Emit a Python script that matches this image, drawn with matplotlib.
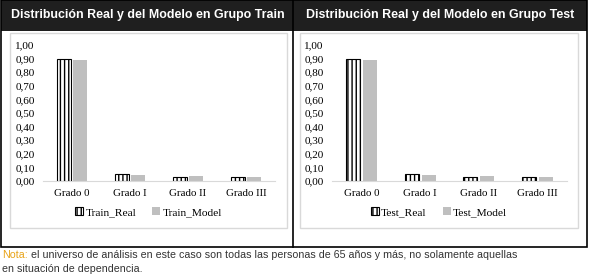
import numpy as np
import matplotlib
matplotlib.use("Agg")
import matplotlib.pyplot as plt
from matplotlib.patches import Rectangle, Patch

categories = ["Grado 0", "Grado I", "Grado II", "Grado III"]
train_real = [0.90, 0.05, 0.03, 0.03]
train_model = [0.89, 0.045, 0.035, 0.03]
test_real = [0.90, 0.05, 0.03, 0.03]
test_model = [0.89, 0.045, 0.035, 0.03]
yticks = np.arange(0, 1.01, 0.1)
titles = ["Distribución Real y del Modelo en Grupo Train",
          "Distribución Real y del Modelo en Grupo Test"]
legend_names = [("Train_Real", "Train_Model"), ("Test_Real", "Test_Model")]
note_head = "Nota:"
note_body = (" el universo de análisis en este caso son todas las personas de 65 años y más, no solamente aquellas\n"
             "en situación de dependencia.")

W, H = 589, 278
fig = plt.figure(figsize=(W / 100, H / 100), dpi=100)
plt.rcParams['hatch.linewidth'] = 1.0


def box(x0, y0, x1, y1):
    # pixel box (top-left origin) -> figure fraction rect
    return [x0 / W, 1 - y1 / H, (x1 - x0) / W, (y1 - y0) / H]


bg = fig.add_axes([0, 0, 1, 1])
bg.set_xlim(0, W)
bg.set_ylim(H, 0)
bg.axis('off')

# table frame
bg.add_patch(Rectangle((1, 0), 586, 31, facecolor='#1f1f1f', edgecolor='none'))
bg.add_patch(Rectangle((1, 0), 586, 247, facecolor='none', edgecolor='black', lw=1.2))
bg.plot([293, 293], [0, 247], color='black', lw=1.2)

panels = [
    dict(frame=(10, 33, 287, 228), ax=(43, 45, 275, 181), title_x=148),
    dict(frame=(300, 33, 578, 228), ax=(332, 45, 567, 181), title_x=440),
]
datasets = [(train_real, train_model), (test_real, test_model)]

for p, (real, model), title, names in zip(panels, datasets, titles, legend_names):
    fx0, fy0, fx1, fy1 = p['frame']
    bg.add_patch(Rectangle((fx0, fy0), fx1 - fx0, fy1 - fy0, facecolor='white',
                           edgecolor='#d9d9d9', lw=1))
    bg.text(p['title_x'], 15, title, color='white', fontsize=8.9, fontweight='bold',
            family='Liberation Sans', ha='center', va='center')

    ax = fig.add_axes(box(*p['ax']))
    x = np.arange(len(categories))
    w = 0.24
    ax.bar(x - 0.145, real, w, facecolor='white', edgecolor='black', hatch='||||', lw=0.8)
    ax.bar(x + 0.145, model, w, color='#bfbfbf')
    ax.set_xlim(-0.5, len(categories) - 0.5)
    ax.set_ylim(0, 1.0)
    ax.set_yticks(yticks)
    ax.set_yticklabels([f"{v:.2f}".replace('.', ',') for v in yticks])
    ax.set_xticks(x)
    ax.set_xticklabels(categories)
    for s in ['top', 'right', 'left']:
        ax.spines[s].set_visible(False)
    ax.spines['bottom'].set_color('#d9d9d9')
    ax.tick_params(length=0, labelsize=8, pad=6)
    ax.tick_params(axis='x', labelsize=7.8, pad=6)
    for lab in ax.get_xticklabels() + ax.get_yticklabels():
        lab.set_family('Liberation Serif')
    ax.patch.set_visible(False)

    handles = [Patch(facecolor='white', edgecolor='black', hatch='||||', lw=0.8),
               Patch(facecolor='#bfbfbf')]
    cx = (fx0 + fx1) / 2
    fig.legend(handles, names, loc='center', bbox_to_anchor=(cx / W, 1 - 212 / H),
               ncol=2, frameon=False, prop={'family': 'Liberation Serif', 'size': 8.2},
               handlelength=0.7, handleheight=0.7, handletextpad=0.2, columnspacing=1.4)

t1 = bg.text(2, 258, note_head, color='#e8a317', fontsize=7.65, family='Liberation Sans',
             va='baseline')
fig.canvas.draw()
ext = t1.get_window_extent()
xoff = ext.x1
bg.text(xoff, 258, note_body.split('\n')[0], color='#333333', fontsize=7.65,
        family='Liberation Sans', va='baseline')
bg.text(2, 272, note_body.split('\n')[1], color='#333333', fontsize=7.65,
        family='Liberation Sans', va='baseline')

fig.savefig('out.png', dpi=100)
